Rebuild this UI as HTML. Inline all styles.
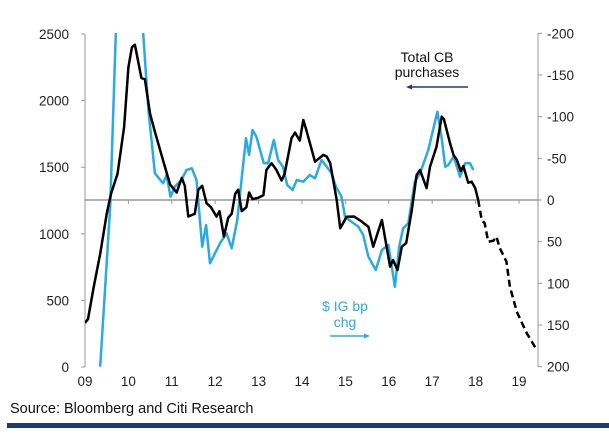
<!DOCTYPE html>
<html><head><meta charset="utf-8"><style>
body{margin:0;background:#fff;}
svg text{font-family:"Liberation Sans",sans-serif;}
</style></head><body>
<svg id="c" width="609" height="432">
<defs><clipPath id="plot"><rect x="85" y="33" width="455" height="335"/></clipPath></defs>
<rect x="0" y="0" width="609" height="432" fill="#fff"/>
<g id="axes"></g>
<g id="series" clip-path="url(#plot)"></g>
<text x="427" y="62" font-size="14" text-anchor="middle" fill="#111">Total CB</text>
<text x="427" y="77" font-size="14" text-anchor="middle" fill="#111">purchases</text>
<line x1="468" y1="87" x2="410" y2="87" stroke="#1f3a7a" stroke-width="1.5"/>
<polygon points="406,87 412,84.5 412,89.5" fill="#1f3a7a"/>
<text x="345" y="311" font-size="14" text-anchor="middle" fill="#29abe2">$ IG bp</text>
<text x="345" y="327" font-size="14" text-anchor="middle" fill="#29abe2">chg</text>
<line x1="330" y1="336" x2="366" y2="336" stroke="#29abe2" stroke-width="1.5"/>
<polygon points="370,336 364,333.5 364,338.5" fill="#29abe2"/>
<text x="10" y="413" font-size="14.5" fill="#111">Source: Bloomberg and Citi Research</text>
<rect x="7" y="423" width="602" height="5" fill="#1f3a6e"/>
</svg>
<script>
const years=["09","10","11","12","13","14","15","16","17","18","19"];
const leftTicks=[0,500,1000,1500,2000,2500];
const rightTicks=[-200,-150,-100,-50,0,50,100,150,200];
const cbT=[0,0.07,0.2,0.35,0.5,0.6,0.75,0.9,1.0,1.08,1.15,1.25,1.3,1.38,1.5,1.6,1.8,1.96,2.11,2.23,2.3,2.38,2.53,2.61,2.7,2.8,2.9,3.03,3.1,3.2,3.3,3.38,3.46,3.53,3.61,3.72,3.78,3.86,3.99,4.11,4.18,4.3,4.41,4.53,4.6,4.76,4.84,4.95,5.03,5.1,5.3,5.49,5.57,5.65,5.8,5.88,6.03,6.2,6.38,6.53,6.64,6.84,7.03,7.1,7.2,7.3,7.4,7.53,7.64,7.72,7.87,7.95,8.1,8.22,8.27,8.41,8.49,8.57,8.66,8.72,8.83,8.91,8.99,9.06];
const cbV=[330,360,600,850,1150,1300,1450,1800,2250,2400,2420,2250,2170,2160,1900,1780,1550,1370,1310,1420,1360,1130,1150,1330,1360,1230,1200,1130,1170,980,1120,1150,1300,1330,1170,1200,1310,1260,1270,1290,1480,1530,1480,1400,1450,1720,1760,1700,1854,1780,1541,1592,1580,1530,1254,1042,1128,1130,1091,1053,903,1104,754,803,728,903,930,1179,1441,1479,1343,1504,1654,1879,1860,1681,1592,1554,1471,1509,1384,1391,1343,1254];
const projT=[9.06,9.14,9.21,9.29,9.41,9.48,9.56,9.71,9.79,9.95,10.18,10.41];
const projV=[1254,1104,1079,941,948,978,891,791,603,415,253,128];
const igT=[0.35,0.58,0.71,0.85,1.0,1.2,1.34,1.46,1.61,1.8,1.88,1.97,2.07,2.22,2.34,2.46,2.57,2.7,2.79,2.88,3.11,3.26,3.38,3.51,3.61,3.71,3.78,3.86,3.95,4.12,4.22,4.35,4.45,4.56,4.66,4.78,4.88,5.03,5.18,5.3,5.45,5.57,5.68,5.78,5.91,5.99,6.14,6.3,6.41,6.53,6.7,6.84,6.99,7.14,7.24,7.33,7.45,7.6,7.72,7.91,8.12,8.22,8.3,8.37,8.49,8.57,8.64,8.76,8.87,8.95];
const igV=[200,8,-200,-320,-380,-340,-200,-108,-32,-20,-30,-4,-16,-24,-36,-38,-24,56,30,76,52,40,58,24,-26,-74,-54,-84,-76,-44,-44,-72,-48,-40,-18,-12,-24,-22,-30,-26,-48,-40,-32,-16,-4,20,26,32,42,68,84,60,54,104,56,34,28,-22,-32,-60,-106,-74,-40,-42,-52,-40,-28,-44,-44,-36];
const NS="http://www.w3.org/2000/svg";
const X0=85,YW=43.4;
const xS=t=>X0+t*YW;
const yL=v=>367-v*0.1332;
const yR=v=>200+v*0.8333;
function mk(tag,attrs,parent){const e=document.createElementNS(NS,tag);for(const k in attrs)e.setAttribute(k,attrs[k]);parent.appendChild(e);return e;}
const ax=document.getElementById('axes'),se=document.getElementById('series');
let e=mk('line',{x1:85,y1:34,x2:85,y2:367,stroke:'#999','stroke-width':1},ax);


e=mk('line',{x1:538,y1:33,x2:538,y2:367,stroke:'#999','stroke-width':1},ax);


e=mk('line',{x1:85,y1:200,x2:538,y2:200,stroke:'#999','stroke-width':1.5},ax);


leftTicks.forEach(v=>{const y=yL(v);mk('line',{x1:81,y1:y,x2:85,y2:y,stroke:'#999'},ax);
 const t=mk('text',{x:69,y:y+5,'font-size':13.5,'text-anchor':'end',fill:'#222'},ax);t.textContent=v;
 
 });
rightTicks.forEach(v=>{const y=yR(v);mk('line',{x1:538,y1:y,x2:542,y2:y,stroke:'#999'},ax);
 const t=mk('text',{x:547,y:y+5,'font-size':13.5,fill:'#222'},ax);t.textContent=v;
 
 });
years.forEach((s,i)=>{const x=xS(i);mk('line',{x1:x,y1:200,x2:x,y2:204,stroke:'#999'},ax);
 const t=mk('text',{x:x,y:386,'font-size':13.5,'text-anchor':'middle',fill:'#222'},ax);t.textContent=s;
 
 });
const pts=(T,V,f)=>T.map((t,i)=>xS(t).toFixed(1)+','+f(V[i]).toFixed(1)).join(' ');
e=mk('polyline',{points:pts(igT,igV,yR),fill:'none',stroke:'#29abe2','stroke-width':2.5,'stroke-linejoin':'round'},se);


e=mk('polyline',{points:pts(cbT,cbV,yL),fill:'none',stroke:'#000','stroke-width':2.5,'stroke-linejoin':'round'},se);


e=mk('polyline',{points:pts(projT,projV,yL),fill:'none',stroke:'#000','stroke-width':2.5,'stroke-dasharray':'7,4'},se);


</script>
</body></html>
